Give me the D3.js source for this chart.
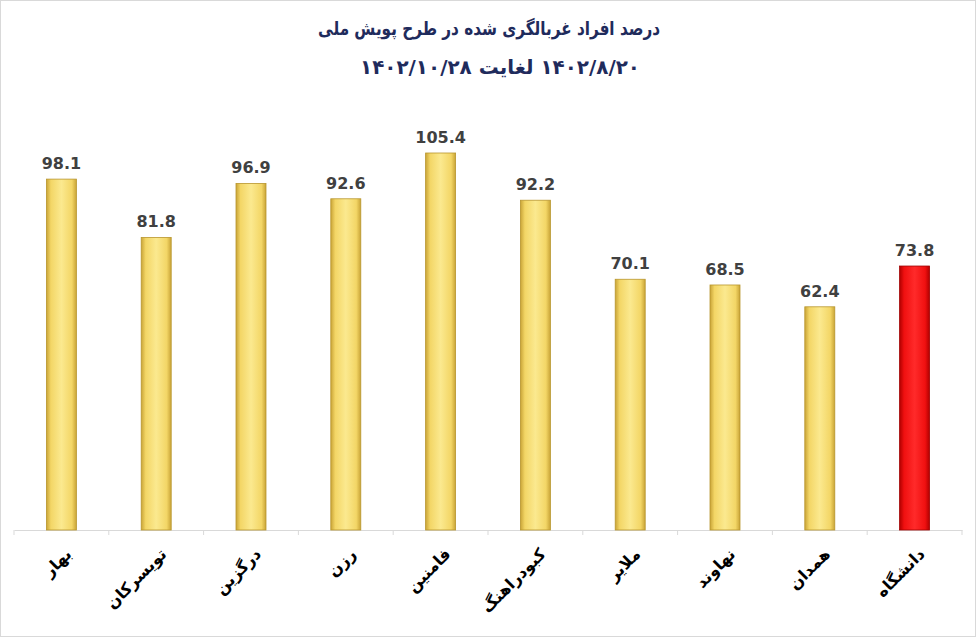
<!DOCTYPE html>
<html>
<head>
<meta charset="utf-8">
<script src="https://d3js.org/d3.v7.min.js"></script>
<style>
  body { margin: 0; background: #fff; }
  text { font-family: "DejaVu Sans", "Noto Sans", sans-serif; }
</style>
</head>
<body>
<div id="chart"></div>
<script>
const categories = ["بهار", "تویسرکان", "درگزین", "رزن", "فامنین", "کبودراهنگ", "ملایر", "نهاوند", "همدان", "دانشگاه"];
const values = [98.1, 81.8, 96.9, 92.6, 105.4, 92.2, 70.1, 68.5, 62.4, 73.8];
const highlight = "دانشگاه";

const W = 976, H = 637;
const svg = d3.select("#chart").append("svg").attr("width", W).attr("height", H);

const defs = svg.append("defs");
function grad(id, stops) {
  const g = defs.append("linearGradient").attr("id", id).attr("x1", "0%").attr("x2", "100%");
  stops.forEach(([o, c]) => g.append("stop").attr("offset", o).attr("stop-color", c));
}
grad("gold", [["0%", "#c9a437"], ["15%", "#f3d666"], ["50%", "#fbe98f"], ["85%", "#f3d666"], ["100%", "#c9a437"]]);
grad("red", [["0%", "#b00000"], ["15%", "#f01010"], ["50%", "#ff2a2a"], ["85%", "#f01010"], ["100%", "#b00000"]]);

svg.append("rect").attr("x", 0.5).attr("y", 0.5).attr("width", W - 1).attr("height", H - 1)
  .attr("fill", "none").attr("stroke", "#d9d9d9");

const x = d3.scaleBand().domain(categories).range([14, 962]).padding(0);
const y = d3.scaleLinear().domain([0, 105.4]).range([530, 153]);
const bw = 30;

svg.append("text").attr("x", 489).attr("y", 35).attr("text-anchor", "middle")
  .attr("font-size", 19).attr("font-weight", "bold").attr("fill", "#1f2b5c")
  .attr("textLength", 342).attr("lengthAdjust", "spacingAndGlyphs")
  .text("درصد افراد غربالگری شده در طرح پویش ملی");
svg.append("text").attr("x", 500).attr("y", 74).attr("text-anchor", "middle")
  .attr("font-size", 20).attr("font-weight", "bold").attr("fill", "#1f2b5c")
  .attr("direction", "rtl")
  .attr("textLength", 280).attr("lengthAdjust", "spacingAndGlyphs")
  .text("۱۴۰۲/۸/۲۰  لغایت ۱۴۰۲/۱۰/۲۸");

const xAxis = svg.append("g").attr("transform", "translate(0,530)")
  .call(d3.axisBottom(x).tickSize(0).tickFormat(""));
xAxis.select(".domain").attr("stroke", "#d9d9d9");
xAxis.selectAll(".b").data(d3.range(categories.length + 1)).enter().append("line")
  .attr("x1", i => 14 + i * x.step()).attr("x2", i => 14 + i * x.step())
  .attr("y1", 0).attr("y2", 5).attr("stroke", "#d9d9d9");

svg.selectAll(".bar").data(categories).enter().append("rect")
  .attr("x", d => x(d) + x.bandwidth() / 2 - bw / 2)
  .attr("y", (d, i) => y(values[i]))
  .attr("width", bw)
  .attr("height", (d, i) => y(0) - y(values[i]))
  .attr("fill", d => d === highlight ? "url(#red)" : "url(#gold)")
  .attr("stroke", d => d === highlight ? "#a00000" : "#b8962e")
  .attr("stroke-width", 0.8);

svg.selectAll(".val").data(categories).enter().append("text")
  .attr("x", d => x(d) + x.bandwidth() / 2)
  .attr("y", (d, i) => y(values[i]) - 10)
  .attr("text-anchor", "middle").attr("font-size", 16).attr("font-weight", "bold")
  .attr("fill", "#404040")
  .text((d, i) => values[i].toFixed(1));

svg.selectAll(".lab").data(categories).enter().append("text")
  .attr("transform", d => `translate(${x(d) + x.bandwidth() / 2 + 8},${552}) rotate(-45)`)
  .attr("text-anchor", "end").attr("dominant-baseline", "middle")
  .attr("font-size", 16).attr("font-weight", "bold").attr("fill", "#000")
  .text(d => d);
</script>
</body>
</html>
